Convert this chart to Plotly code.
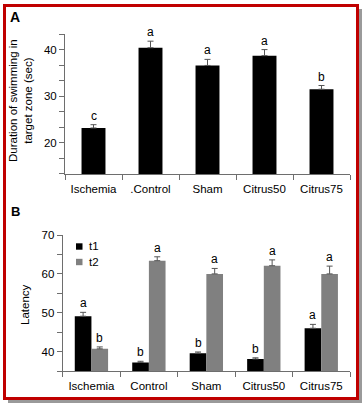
import plotly.graph_objects as go

# ---------------- data ----------------
cats_a = ["Ischemia", ".Control", "Sham", "Citrus50", "Citrus75"]
vals_a = [23.2, 40.4, 36.6, 38.7, 31.5]
err_a = [0.7, 1.4, 1.3, 1.3, 0.8]
letters_a = ["c", "a", "a", "a", "b"]

cats_b = ["Ischemia", "Control", "Sham", "Citrus50", "Citrus75"]
series_names = ["t1", "t2"]
t1_vals = [49.1, 37.2, 39.6, 38.1, 46.0]
t1_err = [1.0, 0.3, 0.3, 0.3, 1.0]
t1_letters = ["a", "b", "b", "b", "a"]
t2_vals = [40.7, 63.4, 60.0, 62.1, 60.0]
t2_err = [0.5, 1.0, 1.4, 1.5, 2.0]
t2_letters = ["b", "a", "a", "a", "a"]

W, H = 363, 406
FONT = "Liberation Sans, Arial, sans-serif"
AXC = "#6e6e6e"
ERRC = "#555555"
C1, C2 = "black", "#808080"

def px(x):
    return x / W

def py(y):
    return 1 - y / H

fig = go.Figure()

# Panel A
fig.add_trace(go.Bar(
    x=cats_a, y=vals_a, width=0.42, marker=dict(color="black", line=dict(width=0)),
    error_y=dict(type="data", array=err_a, arrayminus=[0] * 5, symmetric=False,
                 color=ERRC, thickness=1, width=3),
    showlegend=False, xaxis="x", yaxis="y"))

# Panel B
bw = 0.29
fig.add_trace(go.Bar(
    x=cats_b, y=t1_vals, width=bw, offset=-bw, name=series_names[0],
    marker=dict(color=C1, line=dict(width=0)),
    error_y=dict(type="data", array=t1_err, arrayminus=[0] * 5, symmetric=False,
                 color=ERRC, thickness=1, width=3),
    showlegend=False, xaxis="x2", yaxis="y2"))
fig.add_trace(go.Bar(
    x=cats_b, y=t2_vals, width=bw, offset=0, name=series_names[1],
    marker=dict(color=C2, line=dict(width=0)),
    error_y=dict(type="data", array=t2_err, arrayminus=[0] * 5, symmetric=False,
                 color=ERRC, thickness=1, width=3),
    showlegend=False, xaxis="x2", yaxis="y2"))

annotations = []
for c, v, e, l in zip(cats_a, vals_a, err_a, letters_a):
    annotations.append(dict(x=c, y=v + e, xref="x", yref="y", text=l, showarrow=False,
                            yanchor="bottom", yshift=0, font=dict(size=12, color="black", family=FONT)))
shift = bw / 2 * 57.5
for c, v, e, l in zip(cats_b, t1_vals, t1_err, t1_letters):
    annotations.append(dict(x=c, y=v + e, xref="x2", yref="y2", text=l, showarrow=False,
                            yanchor="bottom", xshift=-shift, font=dict(size=12, color="black", family=FONT)))
for c, v, e, l in zip(cats_b, t2_vals, t2_err, t2_letters):
    annotations.append(dict(x=c, y=v + e, xref="x2", yref="y2", text=l, showarrow=False,
                            yanchor="bottom", xshift=shift, font=dict(size=12, color="black", family=FONT)))

# Panel labels and axis titles
annotations += [
    dict(x=px(14.5), y=py(17), xref="paper", yref="paper", text="<b>A</b>", showarrow=False,
         xanchor="center", yanchor="middle", font=dict(size=14, color="black", family=FONT)),
    dict(x=px(15), y=py(211), xref="paper", yref="paper", text="<b>B</b>", showarrow=False,
         xanchor="center", yanchor="middle", font=dict(size=13, color="black", family=FONT)),
    dict(x=px(21), y=py(101), xref="paper", yref="paper",
         text="Duration of swimming in<br>target zone (sec)", showarrow=False, textangle=-90,
         xanchor="center", yanchor="middle", font=dict(size=11.5, color="black", family=FONT)),
    dict(x=px(25), y=py(305), xref="paper", yref="paper", text="Latency", showarrow=False,
         textangle=-90, xanchor="center", yanchor="middle",
         font=dict(size=11.5, color="black", family=FONT)),
]

shapes = [
    dict(type="rect", xref="paper", yref="paper", x0=px(8), x1=px(362), y0=py(9), y1=py(403),
         fillcolor="#9a9a9a", line=dict(width=0), layer="below"),
    dict(type="rect", xref="paper", yref="paper", x0=px(4.5), x1=px(357.5), y0=py(5.5), y1=py(398.5),
         fillcolor="white", line=dict(color="#c00000", width=3), layer="below"),
]

# legend (manual: swatches + labels)
for name, col, ly in zip(series_names, [C1, C2], [246.5, 262]):
    shapes.append(dict(type="rect", xref="paper", yref="paper", x0=px(76), x1=px(82.5),
                       y0=py(ly + 3.2), y1=py(ly - 3.2), fillcolor=col, line=dict(width=0)))
    annotations.append(dict(x=px(86.5), y=py(ly), xref="paper", yref="paper", text=name,
                            showarrow=False, xanchor="left", yanchor="middle",
                            font=dict(size=11.5, color="black", family=FONT)))

axis_common = dict(showline=True, linecolor=AXC, linewidth=1, ticks="outside", ticklen=5,
                   tickcolor=AXC, showgrid=False, zeroline=False, automargin=False,
                   tickfont=dict(size=11.5, color="black", family=FONT))

fig.update_layout(
    template="none",
    width=W, height=H, margin=dict(l=0, r=0, t=0, b=0, pad=0, autoexpand=False),
    paper_bgcolor="white", plot_bgcolor="rgba(0,0,0,0)",
    font=dict(family=FONT, color="black"),
    showlegend=False,
    xaxis=dict(domain=[px(65), px(350)], anchor="y", type="category", tickson="boundaries",
               ticklabelstandoff=4, **axis_common),
    yaxis=dict(domain=[py(174), py(34)], anchor="x", range=[13.33, 43.34],
               tickvals=[20, 30, 40],
               minor=dict(tickmode="linear", tick0=20, dtick=10 / 3, ticks="outside", ticklen=5,
                          tickcolor=AXC),
               **axis_common),
    xaxis2=dict(domain=[px(62.7), px(350)], anchor="y2", type="category", tickson="boundaries",
                ticklabelstandoff=4, **axis_common),
    yaxis2=dict(domain=[py(371), py(235)], anchor="x2", range=[35, 70.01],
                tickvals=[40, 50, 60, 70],
                minor=dict(tickmode="linear", tick0=40, dtick=5, ticks="outside", ticklen=5,
                           tickcolor=AXC),
                **axis_common),
    annotations=annotations, shapes=shapes,
)

fig.write_html(
    "out.html",
    config={"displayModeBar": False},
    post_script="document.body.style.margin='0';document.body.style.overflow='hidden';",
)
